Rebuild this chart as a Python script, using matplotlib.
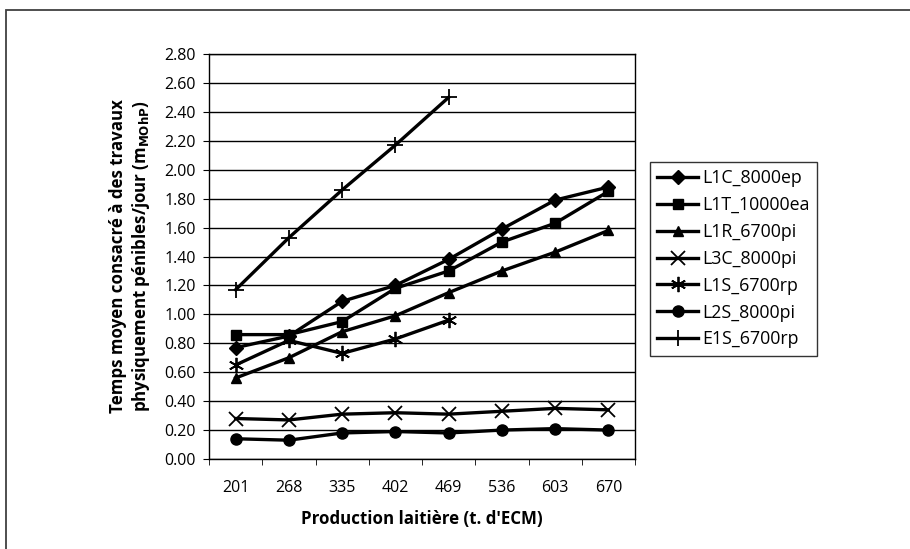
import matplotlib
matplotlib.use("Agg")
import matplotlib.pyplot as plt
from matplotlib.patches import Rectangle

categories = ["201", "268", "335", "402", "469", "536", "603", "670"]
L1C_8000ep = [0.77, 0.85, 1.09, 1.20, 1.38, 1.59, 1.79, 1.88]
L1T_10000ea = [0.86, 0.86, 0.95, 1.18, 1.30, 1.50, 1.63, 1.85]
L1R_6700pi = [0.56, 0.70, 0.88, 0.99, 1.15, 1.30, 1.43, 1.58]
L3C_8000pi = [0.28, 0.27, 0.31, 0.32, 0.31, 0.33, 0.35, 0.34]
L1S_6700rp = [0.65, 0.82, 0.73, 0.83, 0.96]
L2S_8000pi = [0.14, 0.13, 0.18, 0.19, 0.18, 0.20, 0.21, 0.20]
E1S_6700rp = [1.17, 1.53, 1.86, 2.17, 2.50]

series = [
    ("L1C_8000ep", L1C_8000ep, "D", 7.5),
    ("L1T_10000ea", L1T_10000ea, "s", 7.5),
    ("L1R_6700pi", L1R_6700pi, "^", 7.5),
    ("L3C_8000pi", L3C_8000pi, "x", 10),
    ("L1S_6700rp", L1S_6700rp, (6, 2, 0), 11),
    ("L2S_8000pi", L2S_8000pi, "o", 8),
    ("E1S_6700rp", E1S_6700rp, "+", 12),
]

plt.rcParams['font.family'] = ['Open Sans', 'DejaVu Sans']
plt.rcParams['mathtext.default'] = 'regular'

W, H = 910, 549
fig = plt.figure(figsize=(W / 100, H / 100), dpi=100)
fig.patch.set_facecolor("white")
fig.patches.append(Rectangle((6 / W, -0.05), 1.1, 1 - 10 / H + 0.05, transform=fig.transFigure,
                             fill=False, edgecolor="#404040", linewidth=1.3))

ax = fig.add_axes([209 / W, 1 - 459 / H, 426 / W, 405 / H])
xs = list(range(len(categories)))
for name, vals, mk, ms in series:
    thin = mk in ("x", "+") or isinstance(mk, tuple)
    ax.plot(xs[:len(vals)], vals, color="black", linewidth=2.4, marker=mk, markersize=ms,
            markeredgewidth=1.3 if thin else 1.0,
            markerfacecolor="black", markeredgecolor="black", label=name)

ax.set_xlim(-0.5, len(categories) - 0.5)
ax.set_ylim(0, 2.8)
ax.set_yticks([i * 0.2 for i in range(15)])
ax.set_yticklabels([f"{i*0.2:.2f}" for i in range(15)], fontsize=11.5)
ax.set_xticks(xs)
ax.set_xticklabels(categories, fontsize=11.5)
ax.set_xticks([i - 0.5 for i in range(len(categories) + 1)], minor=True)
ax.tick_params(axis="x", which="major", length=0, pad=15)
ax.tick_params(axis="x", which="minor", length=4, direction="out", color="black")
ax.tick_params(axis="y", length=4.5, direction="out", color="black", pad=5)
ax.yaxis.grid(True, color="black", linewidth=1.0)
ax.set_axisbelow(True)
for s in ax.spines.values():
    s.set_color("black")
    s.set_linewidth(1.0)

ax.set_xlabel("Production laitière (t. d'ECM)", fontsize=12.2, fontweight="bold", labelpad=10)
ax.set_ylabel("Temps moyen consacré à des travaux\nphysiquement pénibles/jour (m$_{\\mathbf{MOhP}}$)",
              fontsize=12.2, fontweight="bold", labelpad=9, linespacing=1.15)

leg = fig.legend(loc="upper left", bbox_to_anchor=(650 / W, 1 - 162 / H), frameon=True,
                 fancybox=False, edgecolor="black", fontsize=12.8, handlelength=2.3,
                 handletextpad=0.25, labelspacing=0.5, borderpad=0.4, borderaxespad=0)
leg.get_frame().set_linewidth(1.0)

fig.savefig("out.png", dpi=100, facecolor="white")
